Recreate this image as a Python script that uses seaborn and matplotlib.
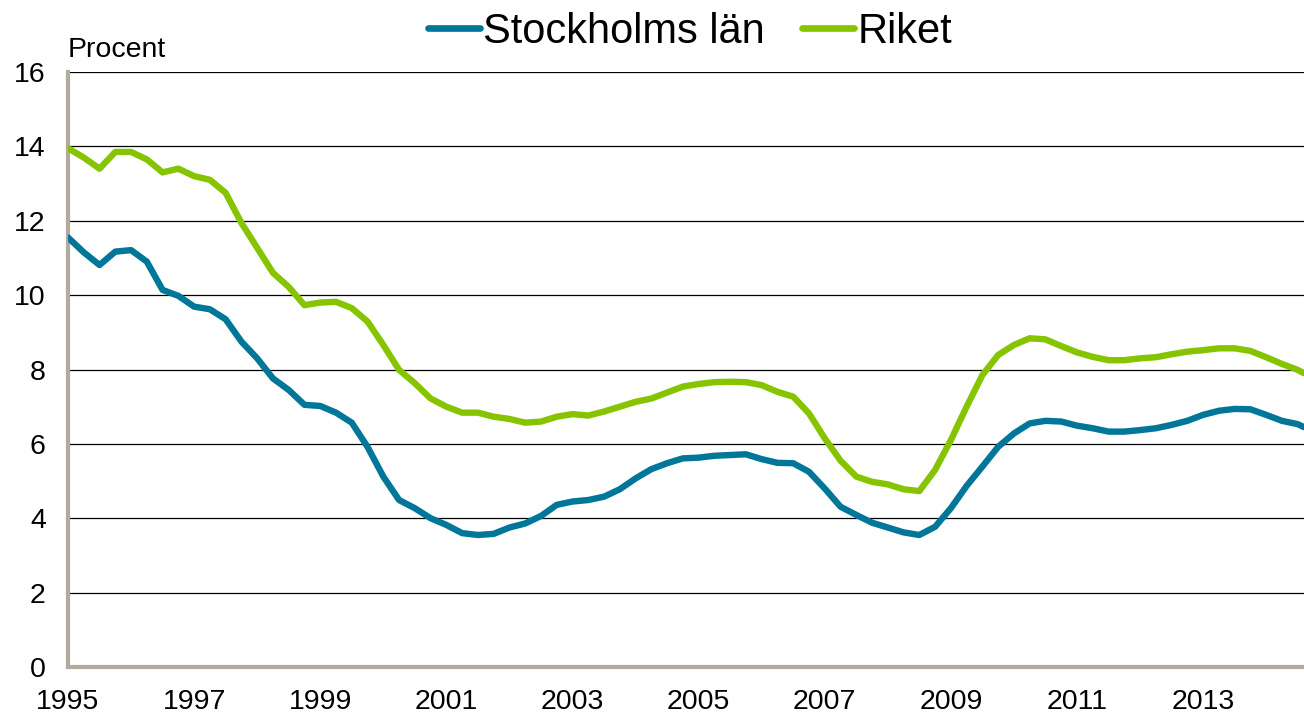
import numpy as np
import pandas as pd
import matplotlib
matplotlib.use("Agg")
import matplotlib.pyplot as plt
import seaborn as sns
from matplotlib.lines import Line2D

# quarterly time axis (decimal years)
years = [1995 + 0.25 * k for k in range(79)] + [2014.6]

stockholm = [
    11.55, 11.15, 10.81, 11.17, 11.21, 10.90, 10.14, 9.98, 9.69, 9.62,
    9.35, 8.75, 8.30, 7.76, 7.45, 7.05, 7.02, 6.84, 6.57, 5.92,
    5.12, 4.49, 4.27, 4.00, 3.82, 3.60, 3.55, 3.58, 3.75, 3.86,
    4.06, 4.36, 4.45, 4.49, 4.58, 4.78, 5.07, 5.32, 5.48, 5.61,
    5.63, 5.68, 5.70, 5.72, 5.59, 5.49, 5.48, 5.25, 4.80, 4.31,
    4.09, 3.88, 3.75, 3.62, 3.55, 3.77, 4.27, 4.87, 5.39, 5.92,
    6.28, 6.55, 6.62, 6.60, 6.49, 6.42, 6.33, 6.33, 6.37, 6.42,
    6.51, 6.62, 6.78, 6.89, 6.94, 6.93, 6.78, 6.62, 6.53, 6.45,
]

riket = [
    13.95, 13.70, 13.40, 13.85, 13.85, 13.65, 13.30, 13.40, 13.20, 13.10,
    12.75, 11.94, 11.27, 10.60, 10.22, 9.73, 9.80, 9.82, 9.65, 9.29,
    8.66, 7.99, 7.63, 7.22, 7.00, 6.84, 6.84, 6.73, 6.67, 6.57,
    6.60, 6.73, 6.80, 6.76, 6.87, 7.00, 7.13, 7.22, 7.38, 7.54,
    7.61, 7.66, 7.67, 7.66, 7.58, 7.40, 7.27, 6.82, 6.15, 5.55,
    5.12, 4.98, 4.91, 4.78, 4.73, 5.30, 6.10, 7.00, 7.85, 8.39,
    8.66, 8.84, 8.81, 8.63, 8.46, 8.34, 8.25, 8.25, 8.30, 8.33,
    8.41, 8.48, 8.52, 8.57, 8.57, 8.50, 8.33, 8.15, 7.99, 7.90,
]

series_names = ["Stockholms län", "Riket"]
colors = ["#007699", "#86c400"]
xticks = list(range(1995, 2014, 2))
yticks = list(range(0, 17, 2))

df = pd.DataFrame({
    "År": years * 2,
    "Procent": stockholm + riket,
    "Serie": [series_names[0]] * len(years) + [series_names[1]] * len(years),
})

sns.set_theme(style="white")
plt.rcParams["font.family"] = ["Liberation Sans", "DejaVu Sans"]
plt.rcParams["text.color"] = "black"
plt.rcParams["xtick.color"] = "black"
plt.rcParams["ytick.color"] = "black"

fig = plt.figure(figsize=(13.04, 7.15), dpi=100)
ax = fig.add_axes([68 / 1304, 48 / 715, 1 - 68 / 1304, (667 - 72) / 715])

sns.lineplot(data=df, x="År", y="Procent", hue="Serie",
             palette=dict(zip(series_names, colors)), linewidth=4.6,
             legend=False, ax=ax, zorder=3)
for ln in ax.lines:
    ln.set_solid_joinstyle("round")
    ln.set_solid_capstyle("round")

ax.set_xlim(1995, 2014.6)
ax.set_ylim(0, 16)
ax.set_xticks(xticks)
ax.set_xticklabels([str(x) for x in xticks])
ax.set_yticks(yticks)
ax.set_yticklabels([str(y) for y in yticks])
ax.tick_params(axis="both", length=0, labelsize=20.5, labelcolor="black")
ax.tick_params(axis="y", pad=16)
ax.tick_params(axis="x", pad=16)
ax.set_xlabel("")
ax.set_ylabel("")

ax.yaxis.grid(True, color="black", linewidth=0.9)
ax.xaxis.grid(False)
ax.set_axisbelow(True)

for s in ["top", "right"]:
    ax.spines[s].set_visible(False)
for s in ["left", "bottom"]:
    ax.spines[s].set_color("#b3aa9d")
    ax.spines[s].set_linewidth(3)

fig.text(68 / 1304, 1 - 57 / 715, "Procent", fontsize=20.5, color="black",
         ha="left", va="baseline")

handles = [Line2D([0], [0], color=c, linewidth=4.8, solid_capstyle="round") for c in colors]
leg = fig.legend(handles, series_names, loc="center", bbox_to_anchor=(690 / 1304, 1 - 32 / 715),
                 ncol=2, frameon=False, fontsize=30, handlelength=1.25, handletextpad=0.08,
                 columnspacing=0.9, borderaxespad=0, borderpad=0)
for t in leg.get_texts():
    t.set_color("black")

fig.savefig("out.png", dpi=100)
